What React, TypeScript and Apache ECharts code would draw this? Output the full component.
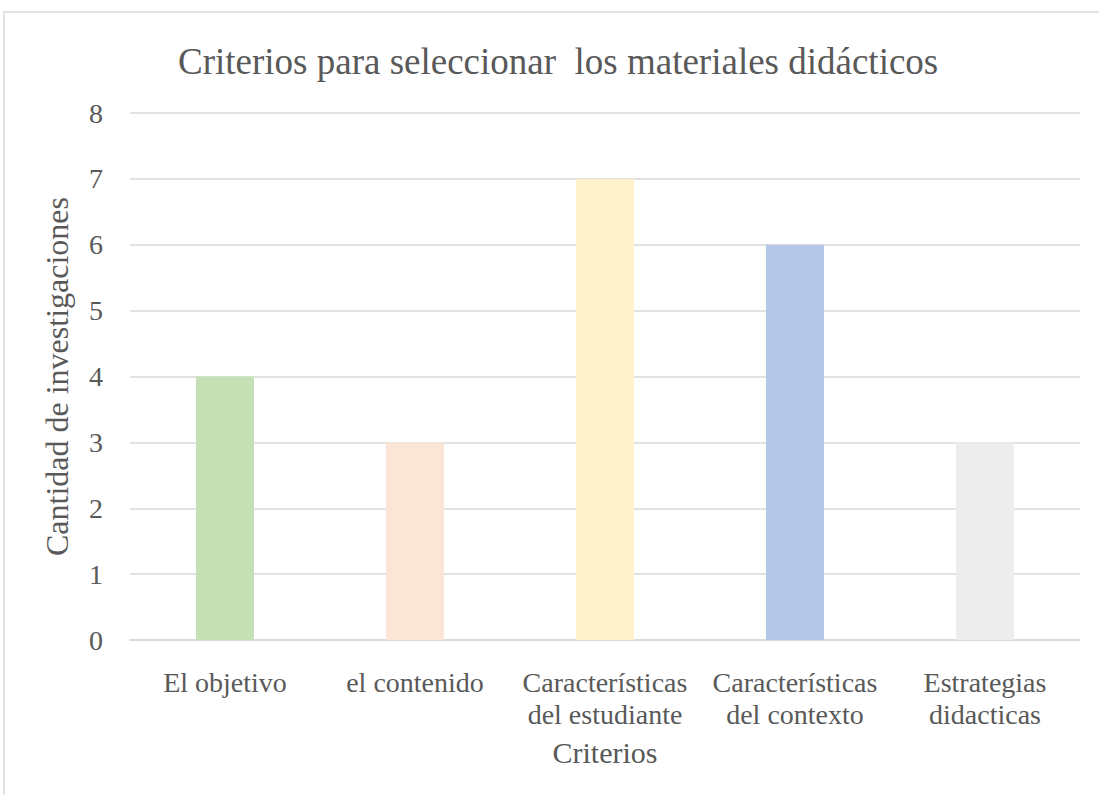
import React, { useEffect, useRef } from "react";
import * as echarts from "echarts";

const categories = [
  "El objetivo",
  "el contenido",
  "Características\ndel estudiante",
  "Características\ndel contexto",
  "Estrategias\ndidacticas",
];
const values = [4, 3, 7, 6, 3];
const barColors = ["#C5E0B4", "#FBE5D6", "#FFF2CC", "#B4C7E7", "#EDEDED"];
const yTicks = [0, 1, 2, 3, 4, 5, 6, 7, 8];

const FONT = "'Liberation Serif', 'Times New Roman', serif";
const TEXT = "#595959";

export default function App() {
  const ref = useRef<HTMLDivElement>(null);
  useEffect(() => {
    if (!ref.current) return;
    const chart = echarts.init(ref.current, undefined, { renderer: "svg" });
    chart.setOption({
      animation: false,
      backgroundColor: "#ffffff",
      title: {
        text: "Criterios para seleccionar  los materiales didácticos",
        left: 173,
        top: 38,
        textStyle: { fontFamily: FONT, fontSize: 37, fontWeight: "normal", color: TEXT },
      },
      graphic: [
        {
          type: "rect",
          shape: { x: 4, y: 12, width: 1200, height: 900 },
          style: { fill: "none", stroke: "#d9d9d9", lineWidth: 1.5 },
          silent: true,
        },
      ],
      grid: { left: 130, right: 19, top: 113, bottom: 155, containLabel: false },
      xAxis: {
        type: "category",
        data: categories,
        name: "Criterios",
        nameLocation: "middle",
        nameGap: 97,
        nameTextStyle: { fontFamily: FONT, fontSize: 30, color: TEXT },
        axisLine: { lineStyle: { color: "#d9d9d9", width: 1.5 } },
        axisTick: { show: false },
        axisLabel: {
          fontFamily: FONT,
          fontSize: 28,
          color: TEXT,
          lineHeight: 32,
          margin: 26,
          interval: 0,
        },
      },
      yAxis: {
        type: "value",
        min: yTicks[0],
        max: yTicks[yTicks.length - 1],
        interval: 1,
        name: "Cantidad de investigaciones",
        nameLocation: "middle",
        nameGap: 57,
        nameTextStyle: { fontFamily: FONT, fontSize: 32, color: TEXT },
        axisLine: { show: false },
        axisTick: { show: false },
        axisLabel: { fontFamily: FONT, fontSize: 28, color: TEXT, margin: 27 },
        splitLine: { lineStyle: { color: "#d9d9d9", width: 1.5 } },
      },
      series: [
        {
          type: "bar",
          barWidth: 58,
          data: values.map((v, i) => ({ value: v, itemStyle: { color: barColors[i] } })),
        },
      ],
    });
    return () => chart.dispose();
  }, []);
  return (
    <div
      ref={ref}
      style={{ position: "fixed", left: 0, top: 0, width: 1099, height: 795 }}
    />
  );
}
